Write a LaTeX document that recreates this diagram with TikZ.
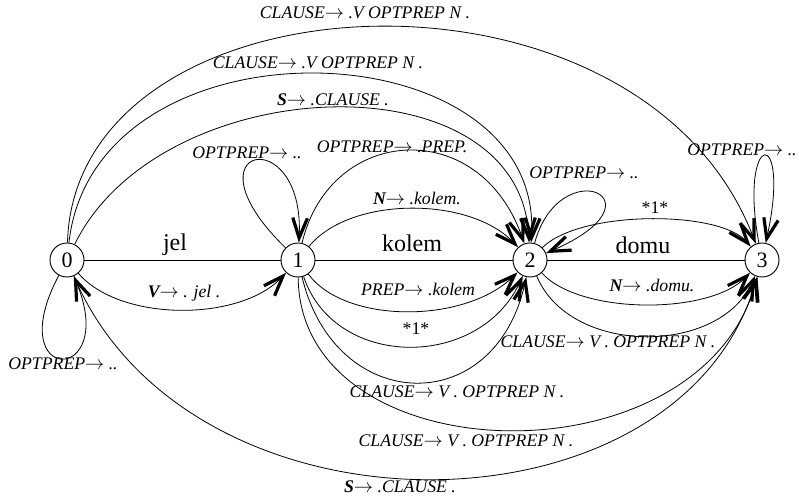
\documentclass[tikz,border=0pt]{standalone}
\usepackage{fontspec}
\setmainfont{Liberation Serif}
\usetikzlibrary{arrows.meta}
\newcommand{\ar}{\ensuremath{\rightarrow}}
\begin{document}
\begin{tikzpicture}[x=0.75pt,y=-0.75pt,
  st/.style={circle,draw,line width=0.7pt,minimum size=25.5pt,inner sep=0pt,font=\fontsize{16.5}{18}\selectfont},
  edge/.style={line width=0.6pt},
  arr/.style={edge,-{Straight Barb[length=15pt,width=11pt,line width=2.4pt]}},
  lab/.style={font=\fontsize{13.3}{15}\selectfont\itshape,inner sep=0pt},
  rlab/.style={font=\fontsize{13.3}{15}\selectfont,inner sep=0pt},
  wlab/.style={font=\fontsize{18}{20}\selectfont,inner sep=0pt}]
\useasboundingbox (0,0) rectangle (799,496);
\node[st] (n0) at (67,260) {0};
\node[st] (n1) at (298,260) {1};
\node[st] (n2) at (530,260) {2};
\node[st] (n3) at (762,260) {3};
% straight
\draw[edge] (n0) -- (n1);
\draw[edge] (n1) -- (n2);
\draw[edge] (n2) -- (n3);
% top arcs
\draw[arr] (n0) .. controls (75,-30) and (640,-60) .. (n3);
\draw[arr] (n0) .. controls (95,10) and (545,25) .. (n2);
\draw[arr] (n0) .. controls (160,70) and (520,55) .. (n2);
\draw[arr] (n1) .. controls (180,145) and (305,120) .. (n1);
\draw[arr] (n1) .. controls (330,125) and (480,115) .. (n2);
\draw[arr] (n1) .. controls (350,196) and (470,196) .. (n2);
\draw[arr] (n2) .. controls (560,150) and (670,200) .. (n2);
\draw[arr] (n2) .. controls (580,210) and (720,210) .. (n3);
\draw[arr] (n3) .. controls (738,130) and (792,123) .. (n3);
% bottom arcs
\draw[arr] (n0) .. controls (0,386) and (120,386) .. (n0);
\draw[arr] (n0) .. controls (120,322) and (240,322) .. (n1);
\draw[arr] (n1) .. controls (345,324) and (465,324) .. (n2);
\draw[arr] (n1) .. controls (335,370) and (480,370) .. (n2);
\draw[arr] (n1) .. controls (335,415) and (495,420) .. (n2);
\draw[arr] (n1) .. controls (300,476) and (700,486) .. (n3);
\draw[arr] (n0) .. controls (190,550) and (680,543) .. (n3);
\draw[arr] (n2) .. controls (580,315) and (710,315) .. (n3);
\draw[arr] (n2) .. controls (570,356) and (720,356) .. (n3);
% labels
\node[lab] (l1) at (365,13) {CLAUSE\ar\ .V OPTPREP N .};
\node[lab] (l2) at (318,63) {CLAUSE\ar\ .V OPTPREP N .};
\node[lab] (l3) at (333,100) {\textbf{S}\ar\ .CLAUSE .};
\node[lab] (l4) at (247,153) {OPTPREP\ar\ ..};
\node[lab] (l5) at (392,147) {OPTPREP\ar\ .PREP.};
\node[lab] (l6) at (417,198) {\textbf{N}\ar\ .kolem.};
\node[lab] (l7) at (584,173) {OPTPREP\ar\ ..};
\node[lab] (l8) at (742,150) {OPTPREP\ar\ ..};
\node[rlab] (l9) at (655,208) {*1*};
\node[wlab] (l10) at (175,245) {jel};
\node[wlab] (l11) at (412,243) {kolem};
\node[wlab] (l12) at (643,245) {domu};
\node[lab] (l13) at (184,293) {\textbf{V}\ar\ . jel .};
\node[lab] (l14) at (418,289) {PREP\ar\ .kolem};
\node[rlab] (l15) at (416,329) {*1*};
\node[lab] (l16) at (652,285) {\textbf{N}\ar\ .domu.};
\node[lab] (l17) at (608,342) {CLAUSE\ar\ V . OPTPREP N .};
\node[lab] (l18) at (457,392) {CLAUSE\ar\ V . OPTPREP N .};
\node[lab] (l19) at (466,441) {CLAUSE\ar\ V . OPTPREP N .};
\node[lab] (l20) at (400,487) {\textbf{S}\ar\ .CLAUSE .};
\node[lab] (l21) at (63,364) {OPTPREP\ar\ ..};
\end{tikzpicture}
\end{document}
